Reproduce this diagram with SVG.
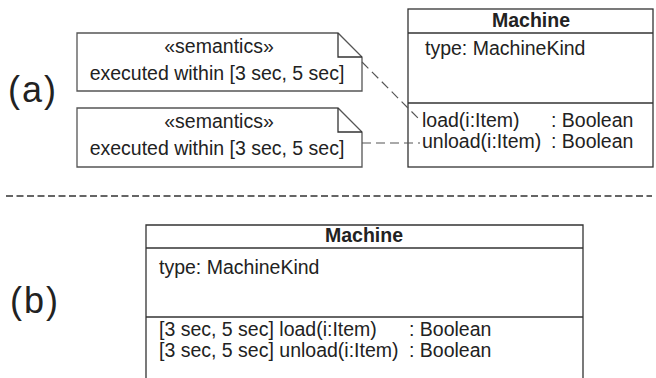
<svg xmlns="http://www.w3.org/2000/svg" width="656" height="378" viewBox="0 0 656 378">
  <style>
    text { font-family: "Liberation Sans", Arial, sans-serif; font-size: 19.5px; fill: #222; }
    .title { font-weight: bold; text-anchor: middle; }
    .mid { text-anchor: middle; }
    .panel { font-size: 36px; }
    .box { fill: #fff; stroke: #333; stroke-width: 1.3; }
    .note { fill: #fff; stroke: #555; stroke-width: 1.3; }
    .rule { stroke: #333; stroke-width: 1.3; fill: none; }
    .link { stroke: #555; stroke-width: 1.2; stroke-dasharray: 9 5; fill: none; }
    .sep { stroke: #333; stroke-width: 1.6; stroke-dasharray: 7 3.5; fill: none; }
  </style>

  <!-- panel labels -->
  <text class="panel" x="8" y="102" letter-spacing="2">(a)</text>
  <text class="panel" x="10" y="313" letter-spacing="2">(b)</text>

  <!-- constraint notes -->
  <g id="note-load">
    <path class="note" d="M77 33 H338 L362 57 V91 H77 Z"/>
    <path class="rule" d="M338 33 V57 H362" stroke="#555"/>
    <text class="mid" x="219" y="53">«semantics»</text>
    <text class="mid" x="217" y="80">executed within [3 sec, 5 sec]</text>
  </g>
  <g id="note-unload">
    <path class="note" d="M77 108 H338 L362 132 V167 H77 Z"/>
    <path class="rule" d="M338 108 V132 H362" stroke="#555"/>
    <text class="mid" x="219" y="128">«semantics»</text>
    <text class="mid" x="217" y="155">executed within [3 sec, 5 sec]</text>
  </g>

  <!-- class Machine, annotated form -->
  <g id="machine-a">
    <rect class="box" x="408" y="9" width="245" height="158"/>
    <line class="rule" x1="408" y1="33" x2="653" y2="33"/>
    <line class="rule" x1="408" y1="103" x2="653" y2="103"/>
    <text class="title" x="531" y="27">Machine</text>
    <text x="425" y="55">type: MachineKind</text>
    <text x="422" y="127">load(i:Item)</text>
    <text x="551" y="127">: Boolean</text>
    <text x="422" y="148">unload(i:Item)</text>
    <text x="551" y="148">: Boolean</text>
  </g>

  <!-- note anchors -->
  <g id="connectors">
    <line class="link" x1="362" y1="62" x2="420" y2="120"/>
    <line class="link" x1="362" y1="143" x2="420" y2="143"/>
  </g>

  <!-- separator between (a) and (b) -->
  <line class="sep" x1="6" y1="196" x2="652" y2="196"/>

  <!-- class Machine, inline time bounds -->
  <g id="machine-b">
    <path class="box" d="M146 378 V225 H583 V378"/>
    <line class="rule" x1="146" y1="248" x2="583" y2="248"/>
    <line class="rule" x1="146" y1="317" x2="583" y2="317"/>
    <text class="title" x="364" y="242">Machine</text>
    <text x="159" y="274">type: MachineKind</text>
    <text x="159" y="336">[3 sec, 5 sec] load(i:Item)</text>
    <text x="409" y="336">: Boolean</text>
    <text x="159" y="357">[3 sec, 5 sec] unload(i:Item)</text>
    <text x="409" y="357">: Boolean</text>
  </g>
</svg>
